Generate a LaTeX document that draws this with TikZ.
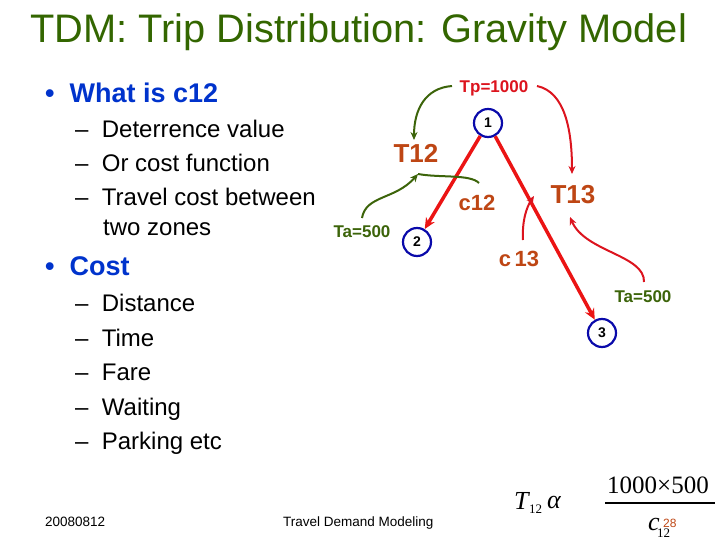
\documentclass[tikz,border=0pt]{standalone}
\usepackage{fontspec}
\setmainfont{Liberation Sans}
\newfontfamily\serifF{Liberation Serif}
\usetikzlibrary{arrows.meta}
\definecolor{titlegreen}{RGB}{51,102,0}
\definecolor{bulletblue}{RGB}{0,51,204}
\definecolor{labelred}{RGB}{190,70,20}
\definecolor{tpred}{RGB}{220,20,30}
\definecolor{tagreen}{RGB}{60,100,10}
\definecolor{lineRed}{RGB}{235,20,20}
\definecolor{circblue}{RGB}{10,10,170}
\tikzset{
  fs/.style={font=\fontsize{#1}{#1}\selectfont},
  txt/.style={inner sep=0pt, anchor=base west},
  zone/.style={circle, draw=circblue, line width=2.2pt, minimum size=28pt, inner sep=0pt, font=\bfseries\fontsize{14}{14}\selectfont},
  redline/.style={draw=lineRed, line width=3.5pt, -{Stealth[length=11pt,width=10pt]}},
  grarrow/.style={draw=tagreen, line width=2pt, -{Stealth[length=8pt,width=7pt]}},
  rdarrow/.style={draw=tpred, line width=2pt, -{Stealth[length=8pt,width=7pt]}},
  lbl/.style={text=labelred, font=\bfseries\fontsize{#1}{#1}\selectfont, inner sep=0pt},
}
\begin{document}
\begin{tikzpicture}[x=1pt,y=-1pt]
\useasboundingbox (0,0) rectangle (720,540);
% title
\node[txt, text=titlegreen, fs=39.8] (title) at (30,43) {TDM: Trip Distribution: Gravity Model};
% bullets
\node[txt, text=bulletblue, font=\bfseries\fontsize{27}{27}\selectfont] (b1) at (45,103) {\textbullet\ \ What is c12};
\node[txt, fs=24] (s1) at (75,138) {–\ \ Deterrence value};
\node[txt, fs=24] (s2) at (75,172) {–\ \ Or cost function};
\node[txt, fs=24] (s3) at (75,206) {–\ \ Travel cost between};
\node[txt, fs=24] (s4) at (103,236) {two zones};
\node[txt, text=bulletblue, font=\bfseries\fontsize{27}{27}\selectfont] (b2) at (45,275) {\textbullet\ \ Cost};
\node[txt, fs=24] (c1) at (75,311) {–\ \ Distance};
\node[txt, fs=24] (c2) at (75,346) {–\ \ Time};
\node[txt, fs=24] (c3) at (75,380) {–\ \ Fare};
\node[txt, fs=24] (c4) at (75,415) {–\ \ Waiting};
\node[txt, fs=24] (c5) at (75,449) {–\ \ Parking etc};
% footer
\node[txt, fs=13.5] (date) at (45,526) {20080812};
\node[txt, fs=13.5] (foot) at (283,526) {Travel Demand Modeling};
% zones
\node[zone] (n1) at (488,123) {1};
\node[zone] (n2) at (417,242) {2};
\node[zone] (n3) at (602,333) {3};
\draw[redline] (n1) -- (n2);
\draw[redline] (n1) -- (n3);
% labels
\node[text=tpred, font=\bfseries\fontsize{17}{17}\selectfont, inner sep=0pt] (tp) at (494,88) {Tp=1000};
\node[text=tagreen, font=\bfseries\fontsize{17}{17}\selectfont, inner sep=0pt] (ta2) at (362,232) {Ta=500};
\node[text=tagreen, font=\bfseries\fontsize{17}{17}\selectfont, inner sep=0pt] (ta3) at (643,297) {Ta=500};
\node[lbl=26] (t12) at (416,153) {T12};
\node[lbl=26] (t13) at (573,195) {T13};
\node[lbl=22] (c12) at (477,203) {c12};
\node[lbl=22] (c13) at (519,259) {c\,13};
% curved arrows
\coordinate (g1s) at (452,86);
\coordinate (g1e) at (414,140);
\draw[grarrow] (g1s) .. controls (425,88) and (414,110) .. (g1e);
\coordinate (g2s) at (362,218);
\coordinate (g2e) at (418,174);
\draw[grarrow] (g2s) .. controls (366,195) and (395,200) .. (g2e);
\coordinate (g3s) at (479,183);
\draw[draw=tagreen, line width=2pt] (g3s) .. controls (470,174) and (440,178) .. (g2e);
\coordinate (r1s) at (537,86);
\coordinate (r1e) at (572,174);
\draw[rdarrow] (r1s) .. controls (565,92) and (572,130) .. (r1e);
\coordinate (r2s) at (523,240);
\coordinate (r2e) at (534,196);
\draw[rdarrow] (r2s) .. controls (522,222) and (526,208) .. (r2e);
\coordinate (r3s) at (644,282);
\coordinate (r3e) at (570,217);
\draw[rdarrow] (r3s) .. controls (645,255) and (585,252) .. (r3e);
% formula
\node[txt, font=\serifF\fontsize{26}{26}\selectfont] (fT) at (514,509) {\textit{T}};
\node[txt, font=\serifF\fontsize{13}{13}\selectfont] (fT2) at (529,513) {12};
\node[txt, font=\serifF\fontsize{26}{26}\selectfont] (fa) at (547,508) {\textit{α}};
\node[txt, font=\serifF\fontsize{25}{25}\selectfont] (fn) at (607,493) {1000×500};
\draw[line width=1.5pt] (605,503) -- (715,503);
\node[txt, font=\serifF\fontsize{26}{26}\selectfont] (fc) at (648,530) {\textit{c}};
\node[txt, font=\serifF\fontsize{13}{13}\selectfont] (fc2) at (657,537) {12};
\node[txt, text=labelred, fs=12] (pg) at (663,527) {28};
\end{tikzpicture}
\end{document}
